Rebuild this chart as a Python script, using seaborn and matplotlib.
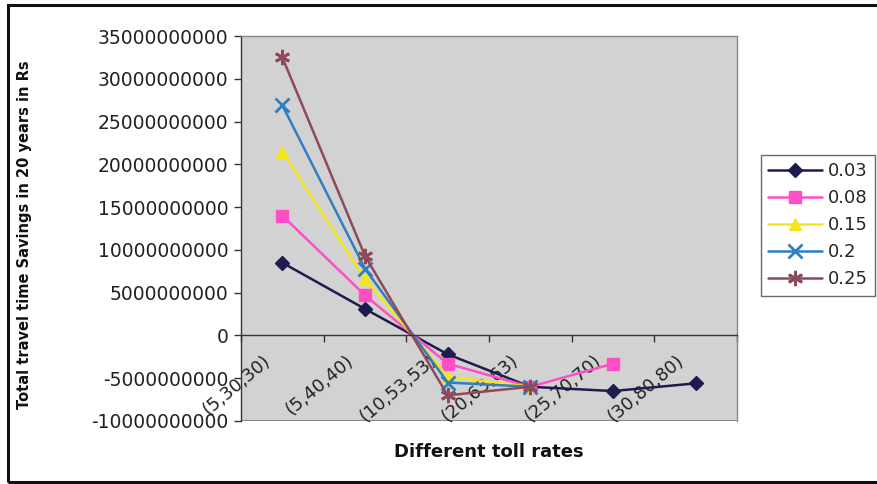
import numpy as np
import pandas as pd
import matplotlib
matplotlib.use("Agg")
import matplotlib.pyplot as plt
import seaborn as sns
from matplotlib.patches import Rectangle
from matplotlib.ticker import FixedLocator, FuncFormatter
import matplotlib.transforms as mtransforms

categories = ["(5,30,30)", "(5,40,40)", "(10,53,53)", "(20,63,63)", "(25,70,70)", "(30,80,80)"]
rates = ["0.03", "0.08", "0.15", "0.2", "0.25"]
s_003 = [8.5e9, 3.1e9, -2.2e9, -6.0e9, -6.5e9, -5.6e9]
s_008 = [14.0e9, 4.7e9, -3.3e9, -6.0e9, -3.3e9, np.nan]
s_015 = [21.5e9, 6.6e9, -4.8e9, -6.0e9, np.nan, np.nan]
s_020 = [26.9e9, 7.8e9, -5.5e9, -6.0e9, np.nan, np.nan]
s_025 = [32.5e9, 9.3e9, -7.0e9, -6.0e9, np.nan, np.nan]
y_ticks = [-10e9, -5e9, 0, 5e9, 10e9, 15e9, 20e9, 25e9, 30e9, 35e9]

series = [s_003, s_008, s_015, s_020, s_025]
colors = ["#1c1c4e", "#ff4fc4", "#f4e61a", "#2f7fc0", "#8e4a58"]
markers = ["D", "s", "^", "x", (6, 2, 0)]
msizes = [7, 9, 9, 10, 11]

rows = []
for r, vals in zip(rates, series):
    for i, v in enumerate(vals):
        if not np.isnan(v):
            rows.append({"pos": i, "value": v, "rate": r})
df = pd.DataFrame(rows)

sns.set_theme(style="white")
plt.rcParams["font.family"] = ["DejaVu Sans"]

fig = plt.figure(figsize=(8.78, 4.84), dpi=100)
ax = fig.add_axes([241 / 878, 1 - 421 / 484, (737 - 241) / 878, (421 - 36) / 484])
ax.set_facecolor("#d2d2d2")

for r, c, m, ms in zip(rates, colors, markers, msizes):
    sub = df[df["rate"] == r]
    sns.lineplot(data=sub, x="pos", y="value", ax=ax, color=c, marker=m,
                 markersize=ms, markeredgecolor=c, markeredgewidth=2 if m in ("x", (6, 2, 0)) else 1,
                 linewidth=1.8, label=r, legend=False)

ax.set_xlim(-0.5, len(categories) - 0.5)
ax.set_ylim(-10e9, 35e9)

# spines first (setting a spine position resets tick styling)
for sp in ["top", "right"]:
    ax.spines[sp].set_color("#888888")
    ax.spines[sp].set_linewidth(1)
ax.spines["left"].set_color("#333333")
ax.spines["left"].set_linewidth(1)
ax.spines["bottom"].set_position(("data", 0))
ax.spines["bottom"].set_color("#333333")
ax.spines["bottom"].set_linewidth(1)
ax.axhline(-10e9, color="#888888", linewidth=1.5, zorder=0.5)

ax.yaxis.set_major_locator(FixedLocator(y_ticks))
ax.yaxis.set_major_formatter(FuncFormatter(lambda v, p: f"{int(round(v))}"))
ax.tick_params(axis="y", which="major", length=5, width=1, color="#333333",
               labelsize=13.5, labelcolor="#222222", direction="out", left=True, pad=4)

ax.set_xticks(range(len(categories)))
ax.set_xticks(np.arange(-0.5, len(categories) + 0.5, 1), minor=True)
ax.tick_params(axis="x", which="major", length=0, pad=2)
ax.tick_params(axis="x", which="minor", length=5, width=1, color="#333333", direction="out", bottom=True)
ax.set_xticklabels(categories, rotation=40, ha="right", va="center", rotation_mode="anchor",
                   fontsize=13, color="#222222")
offset = mtransforms.ScaledTranslation(-14 / 100, -20 / 100, fig.dpi_scale_trans)
for lab in ax.get_xticklabels():
    lab.set_transform(lab.get_transform() + offset)

ax.set_xlabel("")
ax.set_ylabel("")
fig.text((241 + 737) / 2 / 878, 1 - 452 / 484, "Different toll rates", fontsize=13,
         fontweight="bold", color="#111111", ha="center", va="center")
fig.text(25 / 878, 1 - 235 / 484, "Total travel time Savings in 20 years in Rs", fontsize=10.5,
         fontweight="bold", color="#111111", ha="center", va="center", rotation=90)

handles, labels = ax.get_legend_handles_labels()
leg = fig.legend(handles, labels, loc="upper left", bbox_to_anchor=(761 / 878, 1 - 155 / 484),
                 fontsize=13, handlelength=3.0, labelspacing=0.5, frameon=True,
                 fancybox=False, edgecolor="#444444", borderpad=0.4, handletextpad=0.3,
                 borderaxespad=0)
leg.get_frame().set_linewidth(1)

fig.patches.append(Rectangle((8 / 878, 2 / 484), 1.0, 1 - 7 / 484, transform=fig.transFigure,
                             fill=False, edgecolor="#111111", linewidth=2.2))

fig.savefig("out.png", dpi=100)
